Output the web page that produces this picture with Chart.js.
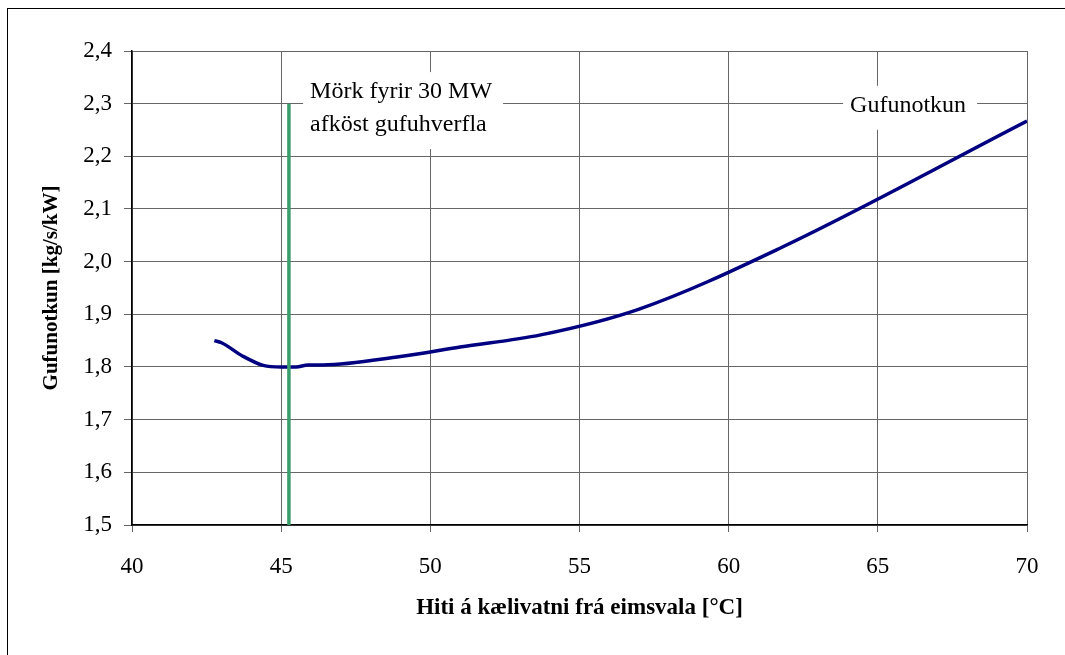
<!DOCTYPE html>
<html>
<head>
<meta charset="utf-8">
<title>Gufunotkun</title>
<script src="https://cdn.jsdelivr.net/npm/chart.js@4.4.1/dist/chart.umd.min.js"></script>
<style>
body { margin:0; background:#fff; overflow:hidden; }
#frame { position:absolute; left:7px; top:8px; width:1100px; height:700px; border:1px solid #000; }
#wrap { position:absolute; left:0; top:0; width:1065px; height:655px; }
</style>
</head>
<body>
<div id="frame"></div>
<div id="wrap"><canvas id="c" width="1065" height="655"></canvas></div>
<script>
// kaelivatn hiti [C] og gufunotkun [kg/s/kW]
var temp  = [42.76, 43.0, 43.7, 44.4, 45.0, 45.5, 45.9, 46.4, 49.0, 51.0, 53.7, 57.0, 61.7, 70.0];
var steam = [1.850, 1.846, 1.821, 1.803, 1.800, 1.800, 1.804, 1.804, 1.820, 1.838, 1.861, 1.910, 2.025, 2.267];

// mork fyrir 30 MW
var limitTemp = [45.26, 45.26];
var limitVal  = [1.5, 2.3];

var xTickLabels = ['40', '45', '50', '55', '60', '65', '70'];
var yTickLabels = ['1,5', '1,6', '1,7', '1,8', '1,9', '2,0', '2,1', '2,2', '2,3', '2,4'];

var notes = [
  { x: 45.97, y: 2.322, lines: ['Mörk fyrir 30 MW', 'afköst gufuhverfla'] },
  { x: 64.07, y: 2.296, lines: ['Gufunotkun'] }
];

var serif = '"Liberation Serif", "Times New Roman", serif';

function pts(xs, ys) {
  return xs.map(function (v, i) { return { x: v, y: ys[i] }; });
}

var notePlugin = {
  id: 'notes',
  beforeDatasetsDraw: function (chart) {
    var ctx = chart.ctx, x = chart.scales.x, y = chart.scales.y;
    ctx.save();
    ctx.font = '24px ' + serif;
    ctx.textBaseline = 'middle';
    notes.forEach(function (n) {
      var px = x.getPixelForValue(n.x), py = y.getPixelForValue(n.y);
      var lh = 33;
      var w = 0;
      n.lines.forEach(function (l) { w = Math.max(w, ctx.measureText(l).width); });
      ctx.fillStyle = '#fff';
      ctx.fillRect(px - 7, py - 20, w + 18, lh * (n.lines.length - 1) + 44);
      ctx.fillStyle = '#000';
      n.lines.forEach(function (l, i) { ctx.fillText(l, px, py + i * lh); });
    });
    ctx.restore();
  }
};

new Chart(document.getElementById('c'), {
  type: 'scatter',
  data: {
    datasets: [
      {
        data: pts(limitTemp, limitVal),
        showLine: true,
        borderColor: '#3a9e6c',
        borderWidth: 3.5,
        borderCapStyle: 'butt',
        pointRadius: 0
      },
      {
        data: pts(temp, steam),
        showLine: true,
        borderColor: '#000080',
        borderWidth: 3.5,
        cubicInterpolationMode: 'monotone',
        pointRadius: 0
      }
    ]
  },
  options: {
    responsive: false,
    animation: false,
    layout: { padding: { left: 0, top: 51, right: 38, bottom: 0 } },
    plugins: { legend: { display: false }, tooltip: { enabled: false } },
    scales: {
      x: {
        type: 'linear', min: 40, max: 70,
        afterFit: function (s) { s.height = 130; },
        ticks: {
          stepSize: 5, color: '#000', padding: 21,
          font: { family: serif, size: 23 },
          callback: function (v) { return xTickLabels[(v - 40) / 5]; }
        },
        grid: { color: '#666', lineWidth: 1, tickLength: 7, tickColor: '#666' },
        border: { color: '#000', width: 1.5 },
        title: {
          display: true, text: 'Hiti á kælivatni frá eimsvala [°C]', color: '#000',
          font: { family: serif, size: 23, weight: 'bold' },
          padding: { top: 0, bottom: 33 }
        }
      },
      y: {
        type: 'linear', min: 1.5, max: 2.4,
        afterFit: function (s) { s.width = 132; },
        ticks: {
          stepSize: 0.1, color: '#000', padding: 12,
          font: { family: serif, size: 23 },
          callback: function (v) { return yTickLabels[Math.round((v - 1.5) * 10)]; }
        },
        grid: { color: '#666', lineWidth: 1, tickLength: 8, tickColor: '#666' },
        border: { color: '#000', width: 1.5 },
        title: {
          display: true, text: 'Gufunotkun [kg/s/kW]', color: '#000',
          font: { family: serif, size: 21, weight: 'bold' },
          padding: { top: 39, bottom: 0 }
        }
      }
    }
  },
  plugins: [notePlugin]
});
</script>
</body>
</html>
